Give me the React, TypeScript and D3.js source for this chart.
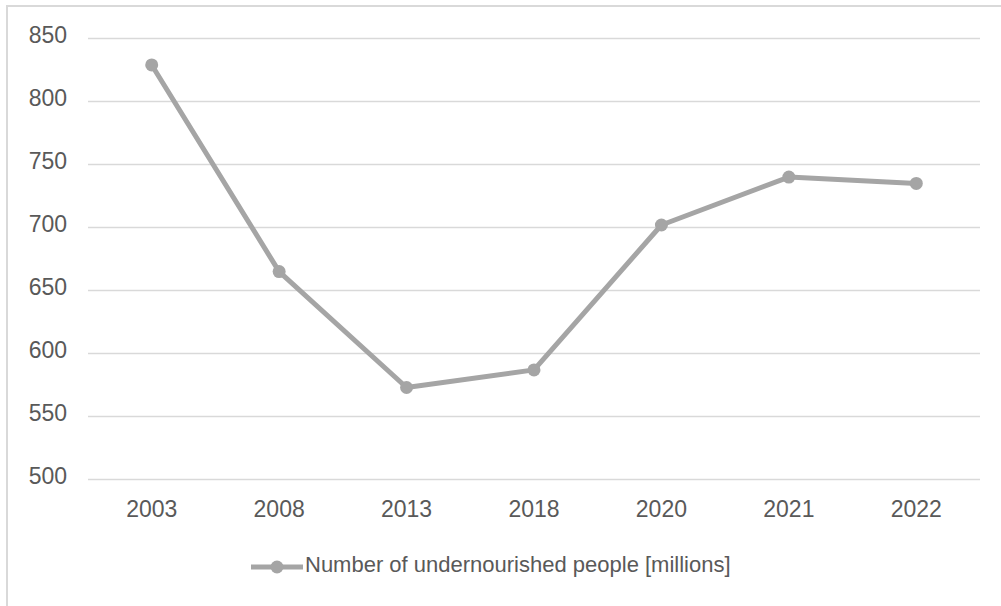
import React from "react";
import * as d3 from "d3";

const years: string[] = ["2003", "2008", "2013", "2018", "2020", "2021", "2022"];
const undernourished: number[] = [829, 665, 573, 587, 702, 740, 735];
const yTicks: number[] = [500, 550, 600, 650, 700, 750, 800, 850];
const seriesName = "Number of undernourished people [millions]";

const W = 1001;
const H = 606;
const plot = { left: 88, right: 980, top: 38.5, bottom: 479.5 };
const lineColor = "#a5a5a5";
const textColor = "#595959";
const gridColor = "#d9d9d9";
const font = "'Liberation Sans', Arial, Helvetica, sans-serif";

export default function App() {
  const x = d3.scaleBand<string>().domain(years).range([plot.left, plot.right]);
  const y = d3.scaleLinear().domain([500, 850]).range([plot.bottom, plot.top]);
  const cx = (d: string) => (x(d) ?? 0) + x.bandwidth() / 2;

  const line = d3
    .line<number>()
    .x((_, i) => cx(years[i]))
    .y((v) => y(v));

  const legendY = 567;
  const legendX0 = 251;
  const legendX1 = 303;

  return (
    <svg
      width={W}
      height={H}
      style={{ position: "absolute", left: 0, top: 0, background: "#fff" }}
      fontFamily={font}
    >
      <rect x={7} y={6} width={W + 20} height={H + 20} fill="#fff" stroke={gridColor} strokeWidth={2} />
      {yTicks.map((t) => (
        <g key={t}>
          <line x1={plot.left} x2={plot.right} y1={y(t)} y2={y(t)} stroke={gridColor} strokeWidth={1.5} />
          <text x={67} y={y(t) - 4} textAnchor="end" dominantBaseline="central" fontSize={23} fill={textColor}>
            {t}
          </text>
        </g>
      ))}
      {years.map((yr) => (
        <text key={yr} x={cx(yr)} y={508.5} textAnchor="middle" dominantBaseline="central" fontSize={23} fill={textColor}>
          {yr}
        </text>
      ))}
      <path d={line(undernourished) ?? ""} fill="none" stroke={lineColor} strokeWidth={5} strokeLinejoin="round" />
      {undernourished.map((v, i) => (
        <circle key={years[i]} cx={cx(years[i])} cy={y(v)} r={6.5} fill={lineColor} />
      ))}
      <line x1={legendX0} x2={legendX1} y1={legendY} y2={legendY} stroke={lineColor} strokeWidth={5} />
      <circle cx={(legendX0 + legendX1) / 2} cy={legendY} r={6.5} fill={lineColor} />
      <text x={305} y={564} dominantBaseline="central" fontSize={22} fill={textColor}>
        {seriesName}
      </text>
    </svg>
  );
}
